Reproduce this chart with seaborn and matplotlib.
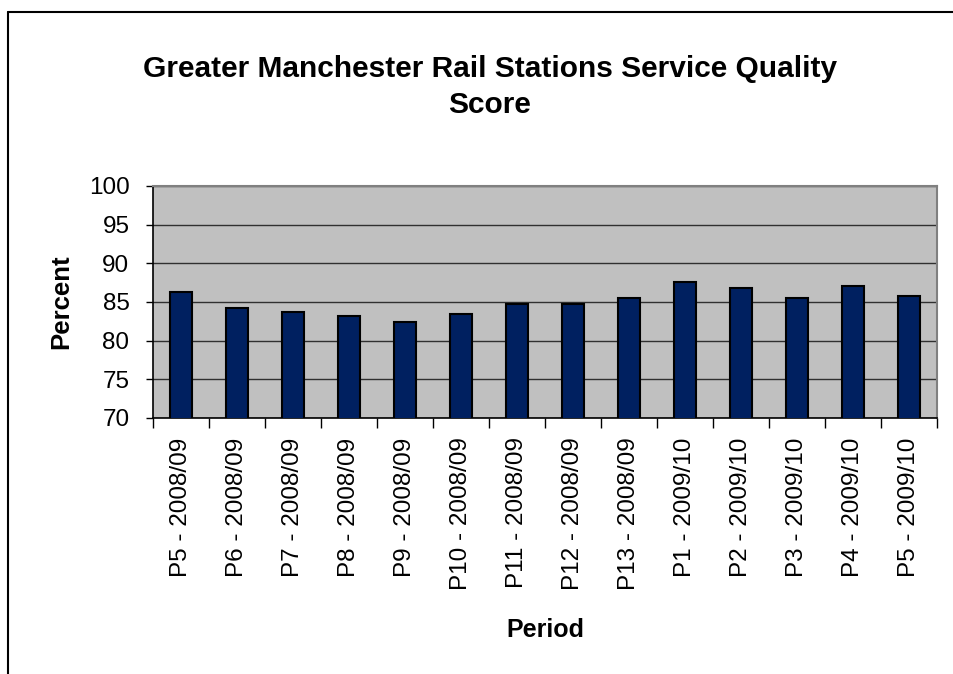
import pandas as pd
import numpy as np
import seaborn as sns
import matplotlib.pyplot as plt
from matplotlib.ticker import FixedLocator
from matplotlib.lines import Line2D

# data
periods = ["P5 - 2008/09", "P6 - 2008/09", "P7 - 2008/09", "P8 - 2008/09",
           "P9 - 2008/09", "P10 - 2008/09", "P11 - 2008/09", "P12 - 2008/09",
           "P13 - 2008/09", "P1 - 2009/10", "P2 - 2009/10", "P3 - 2009/10",
           "P4 - 2009/10", "P5 - 2009/10"]
scores = [86.3, 84.2, 83.7, 83.2, 82.4, 83.4, 84.7, 84.7, 85.5, 87.6, 86.8,
          85.5, 87.1, 85.8]
y_ticks = [70, 75, 80, 85, 90, 95, 100]

sns.set_style("white")
plt.rcParams['font.family'] = ['Liberation Sans', 'DejaVu Sans']
plt.rcParams['text.color'] = 'black'
plt.rcParams['axes.labelcolor'] = 'black'
plt.rcParams['xtick.color'] = 'black'
plt.rcParams['ytick.color'] = 'black'

df = pd.DataFrame({"period": periods, "score": scores})

fig = plt.figure(figsize=(9.54, 6.74), dpi=100)
ax = fig.add_axes([153 / 954, 1 - 418 / 674, 784 / 954, 232 / 674])
ax.set_facecolor("#C0C0C0")

sns.barplot(data=df, x="period", y="score", color="#002060", saturation=1,
            width=0.4, edgecolor="black", linewidth=1.5, ax=ax, zorder=3)

ax.set_ylim(70, 100)
ax.set_xlim(-0.5, len(periods) - 0.5)
ax.set_yticks(y_ticks)
ax.yaxis.grid(True, color="#303030", linewidth=1)
ax.set_axisbelow(True)

# ticks between categories on the x axis
ax.xaxis.set_minor_locator(FixedLocator(np.arange(-0.5, len(periods), 1)))
ax.tick_params(axis="x", which="major", length=0, pad=14, labelsize=17.5,
               rotation=90)
ax.tick_params(axis="x", which="minor", length=7, width=1, color="black",
               direction="out", bottom=True)
ax.tick_params(axis="y", length=5, width=1, color="black", direction="out",
               left=True, pad=12, labelsize=17.5)

for side in ["top", "right"]:
    ax.spines[side].set_color("#808080")
    ax.spines[side].set_linewidth(1.5)
for side in ["left", "bottom"]:
    ax.spines[side].set_color("black")
    ax.spines[side].set_linewidth(1.2)

ax.set_xlabel("Period", fontsize=18, fontweight="bold")
ax.set_ylabel("Percent", fontsize=18.5, fontweight="bold")
ax.xaxis.set_label_coords(0.5, -0.86)
ax.yaxis.set_label_coords(-0.102, 0.5)

fig.text(490 / 954, 1 - 87 / 674,
         "Greater Manchester Rail Stations Service Quality\nScore",
         ha="center", va="center", fontsize=21.5, fontweight="bold",
         linespacing=1.4)

# chart area border (top and left edges only visible)
fig.add_artist(Line2D([8.5 / 954, 8.5 / 954], [0, 1 - 12 / 674],
                      transform=fig.transFigure, color="black", linewidth=1.5))
fig.add_artist(Line2D([8.5 / 954, 1], [1 - 12 / 674, 1 - 12 / 674],
                      transform=fig.transFigure, color="black", linewidth=1.5))

fig.savefig("out.png", dpi=100)
